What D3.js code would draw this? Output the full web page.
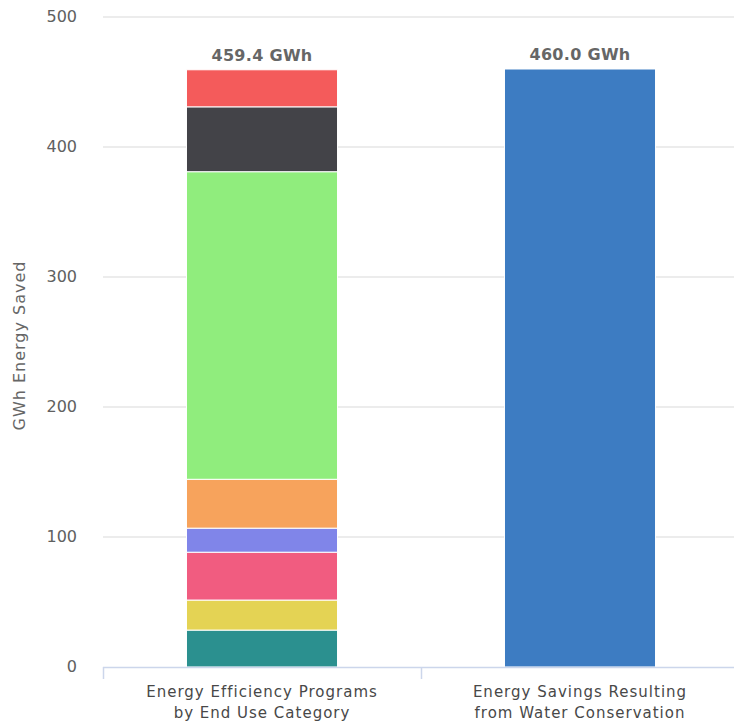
<!DOCTYPE html>
<html>
<head>
<meta charset="utf-8">
<script src="https://cdn.jsdelivr.net/npm/d3@7"></script>
<style>
  html, body { margin: 0; padding: 0; background: #fff; }
  svg { display: block; }
  text { font-family: "DejaVu Sans", sans-serif; }
</style>
</head>
<body>
<svg id="chart" width="734" height="724"></svg>
<script>
// Categories on the x axis (each label split into two lines)
const categories = [
  ["Energy Efficiency Programs", "by End Use Category"],
  ["Energy Savings Resulting", "from Water Conservation"]
];

// Stacked end-use savings for the first column, bottom to top (GWh)
const endUseSavings = [28.4, 23.1, 36.8, 18.5, 37.6, 236.6, 49.9, 28.5];
const endUseColors = ["#2b908f", "#e4d354", "#f15c80", "#8085e9", "#f7a35c", "#90ed7d", "#434348", "#f45b5b"];

// Single-value column (GWh)
const waterSavings = [460.0];
const waterColor = "#3d7cc2";

// Totals shown above each column
const totalLabels = ["459.4 GWh", "460.0 GWh"];

// Y axis ticks
const yTicks = [0, 100, 200, 300, 400, 500];

const svg = d3.select("#chart");
const plotLeft = 103, plotRight = 739, plotTop = 17, plotBottom = 667;

const x = d3.scaleBand()
  .domain(categories.map((d, i) => i))
  .range([plotLeft, plotRight])
  .paddingInner(0.525)
  .paddingOuter(0.2625);

const y = d3.scaleLinear().domain([0, 500]).range([plotBottom, plotTop]);

// Grid lines
svg.append("g")
  .selectAll("line")
  .data(yTicks.filter(t => t > 0))
  .join("line")
  .attr("x1", plotLeft).attr("x2", 734)
  .attr("y1", d => y(d)).attr("y2", d => y(d))
  .attr("stroke", "#e6e6e6").attr("stroke-width", 1.5);

// Y tick labels
svg.append("g")
  .selectAll("text")
  .data(yTicks)
  .join("text")
  .attr("x", 77)
  .attr("y", d => y(d) + 5)
  .attr("text-anchor", "end")
  .attr("font-size", 16)
  .attr("fill", "#606060")
  .text(d => d);

// Y axis title
svg.append("text")
  .attr("transform", `translate(25, ${(258 + 433) / 2}) rotate(-90)`)
  .attr("text-anchor", "middle")
  .attr("font-size", 16)
  .attr("letter-spacing", 1)
  .attr("fill", "#666")
  .text("GWh Energy Saved");

// Stack for first column
let acc = 0;
const stacked = endUseSavings.map((v, i) => {
  const seg = { y0: acc, y1: acc + v, color: endUseColors[i] };
  acc += v;
  return seg;
});

svg.append("g")
  .selectAll("rect")
  .data(stacked)
  .join("rect")
  .attr("x", x(0))
  .attr("width", x.bandwidth())
  .attr("y", d => y(d.y1))
  .attr("height", d => y(d.y0) - y(d.y1))
  .attr("fill", d => d.color)
  .attr("stroke", "#fff")
  .attr("stroke-width", 1);

// Second column
svg.append("g")
  .selectAll("rect")
  .data(waterSavings)
  .join("rect")
  .attr("x", x(1))
  .attr("width", x.bandwidth())
  .attr("y", d => y(d))
  .attr("height", d => y(0) - y(d))
  .attr("fill", waterColor)
  .attr("stroke", "#fff")
  .attr("stroke-width", 1);

// Totals above the columns
const totals = [d3.sum(endUseSavings), waterSavings[0]];
svg.append("g")
  .selectAll("text")
  .data(totals)
  .join("text")
  .attr("x", (d, i) => x(i) + x.bandwidth() / 2)
  .attr("y", d => y(d) - 9)
  .attr("text-anchor", "middle")
  .attr("font-size", 16)
  .attr("letter-spacing", 0.3)
  .attr("font-weight", "bold")
  .attr("fill", "#666")
  .attr("stroke", "#fff")
  .attr("stroke-width", 2)
  .attr("paint-order", "stroke")
  .text((d, i) => totalLabels[i]);

// X axis line and ticks
svg.append("line")
  .attr("x1", plotLeft).attr("x2", 734)
  .attr("y1", plotBottom + 0.5).attr("y2", plotBottom + 0.5)
  .attr("stroke", "#ccd6eb").attr("stroke-width", 1.5);

const step = x.step();
svg.append("g")
  .selectAll("line")
  .data([0, 1, 2])
  .join("line")
  .attr("x1", i => plotLeft + i * step + 0.5)
  .attr("x2", i => plotLeft + i * step + 0.5)
  .attr("y1", plotBottom).attr("y2", plotBottom + 12)
  .attr("stroke", "#ccd6eb").attr("stroke-width", 1.5);

// X category labels
const xl = svg.append("g")
  .selectAll("text")
  .data(categories)
  .join("text")
  .attr("text-anchor", "middle")
  .attr("font-size", 15)
  .attr("letter-spacing", 1)
  .attr("fill", "#484848");
xl.selectAll("tspan")
  .data((d, i) => d.map(s => ({ s, i })))
  .join("tspan")
  .attr("x", d => x(d.i) + x.bandwidth() / 2)
  .attr("y", (d, j) => 697 + j * 21)
  .text(d => d.s);
</script>
</body>
</html>
